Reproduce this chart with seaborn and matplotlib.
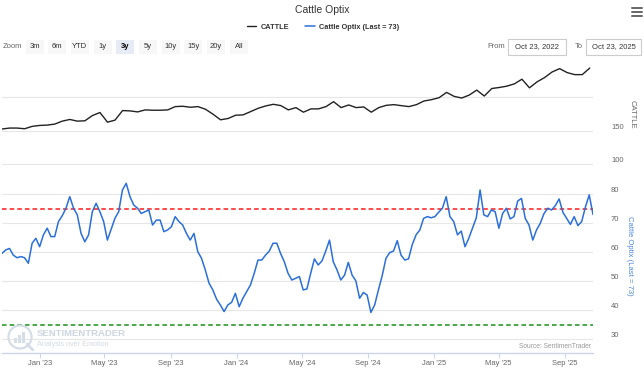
import pandas as pd
import matplotlib
matplotlib.use("Agg")
import matplotlib.pyplot as plt
import matplotlib.dates as mdates
from matplotlib.patches import Rectangle, Circle
from matplotlib.lines import Line2D
import seaborn as sns

# =========================================================
# DATA
# =========================================================
optix_start, optix_end = "2022-10-23", "2025-10-23"
optix_values = [
    59.6, 60.8, 61.3, 59.0, 58.1, 58.5, 58.1, 56.2, 63.1, 64.8,
    61.9, 66.0, 68.3, 65.4, 65.4, 70.6, 72.6, 75.2, 79.2, 75.2,
    72.9, 66.5, 63.6, 66.0, 74.0, 76.9, 74.0, 70.6, 64.2, 68.0,
    71.7, 74.0, 81.5, 83.8, 79.2, 76.3, 75.2, 73.4, 74.0, 74.6,
    69.4, 71.1, 71.1, 67.1, 67.7, 68.8, 72.3, 70.6, 69.4, 66.5,
    64.2, 66.5, 60.2, 57.9, 53.9, 49.3, 47.0, 43.8, 41.8, 39.5,
    41.8, 42.7, 45.8, 41.2, 44.1, 46.4, 48.7, 52.7, 57.3, 57.3,
    59.0, 60.4, 63.1, 63.1, 59.6, 56.7, 52.7, 50.4, 51.0, 51.6,
    47.0, 47.3, 52.7, 57.7, 55.6, 57.0, 60.4, 64.2, 56.7, 53.9,
    50.4, 52.1, 56.5, 52.1, 50.1, 44.1, 46.1, 45.2, 39.2, 41.8,
    47.0, 51.9, 57.9, 59.9, 60.4, 64.0, 59.0, 57.3, 57.7, 62.7,
    66.0, 67.7, 71.7, 72.3, 71.9, 72.3, 73.8, 75.2, 79.2, 72.3,
    70.6, 66.0, 67.3, 61.9, 64.8, 68.3, 71.9, 81.5, 72.9, 72.3,
    74.6, 74.0, 68.3, 73.4, 75.2, 71.5, 72.3, 77.7, 78.6, 71.7,
    69.4, 64.2, 67.7, 70.0, 73.4, 75.2, 74.6, 76.1, 78.4, 73.8,
    71.7, 69.6, 72.3, 69.2, 70.6, 75.7, 79.8, 73.0,
]

cattle_start, cattle_end = "2022-10-23", "2025-10-17"
cattle_values = [
    152.5, 153.9, 153.9, 152.9, 156.4, 157.8, 158.3, 159.8, 164.2, 166.7,
    164.2, 164.7, 172.5, 177.0, 162.7, 165.7, 179.9, 179.4, 177.9, 180.9,
    180.4, 180.4, 180.9, 185.8, 186.3, 184.8, 185.8, 181.9, 174.5, 166.2,
    168.1, 173.0, 173.5, 178.4, 183.3, 186.8, 189.2, 187.3, 180.9, 184.3,
    177.5, 182.4, 182.4, 185.8, 193.1, 184.3, 188.2, 184.3, 185.3, 177.5,
    184.3, 187.7, 188.7, 187.2, 185.8, 188.7, 194.1, 196.1, 199.0, 206.9,
    201.0, 198.5, 202.9, 210.3, 201.5, 212.7, 214.2, 216.2, 219.6, 226.5,
    213.7, 222.5, 228.9, 237.2, 242.2, 236.3, 233.3, 233.3, 243.1,
]

upper_level = 75
lower_level = 35
zoom_buttons = ["3m", "6m", "YTD", "1y", "3y", "5y", "10y", "15y", "20y", "All"]
selected_button = "3y"

optix_df = pd.DataFrame({
    "date": pd.date_range(optix_start, optix_end, periods=len(optix_values)),
    "value": optix_values,
})
cattle_df = pd.DataFrame({
    "date": pd.date_range(cattle_start, cattle_end, periods=len(cattle_values)),
    "value": cattle_values,
})

# =========================================================
# LAYOUT HELPERS (pixel -> figure fraction)
# =========================================================
W, H = 644, 371
def fx(x): return x / W
def fy(y): return 1 - y / H

sns.set_theme(style="white")
plt.rcParams['font.family'] = ['Liberation Sans', 'DejaVu Sans']

fig = plt.figure(figsize=(6.44, 3.71), dpi=100)
fig.patch.set_facecolor("white")

ax_top = fig.add_axes([fx(2), fy(170), fx(593) - fx(2), fy(58) - fy(170)])
ax_bot = fig.add_axes([fx(2), fy(353), fx(593) - fx(2), fy(170) - fy(353)])

xmin, xmax = pd.Timestamp(optix_start), pd.Timestamp(optix_end)
grid_col = "#e6e6e6"
tick_col = "#666666"

# --- upper pane: CATTLE
sns.lineplot(data=cattle_df, x="date", y="value", ax=ax_top, color="#222222",
             linewidth=1.0, label="CATTLE", legend=False)
ax_top.set_ylim(91.6, 258)
ax_top.set_yticks([100, 150, 200])
ax_top.set_yticklabels(["100", "150", ""])

# --- lower pane: Cattle Optix
ax_bot.axhline(upper_level, color="#ff1a1a", linestyle=(0, (3, 2)), linewidth=1.1, zorder=1)
ax_bot.axhline(lower_level, color="#1a8f1a", linestyle=(0, (3, 2)), linewidth=1.1, zorder=1)
sns.lineplot(data=optix_df, x="date", y="value", ax=ax_bot, color="#2a6fdb",
             linewidth=1.1, label="Cattle Optix (Last = 73)", legend=False, zorder=3)
ax_bot.set_ylim(25.2, 88.4)
ax_bot.set_yticks([30, 40, 50, 60, 70, 80])

for ax in (ax_top, ax_bot):
    ax.set_facecolor("none")
    ax.set_xlim(xmin, xmax)
    ax.set_xlabel("")
    ax.set_ylabel("")
    ax.yaxis.tick_right()
    ax.grid(axis="y", color=grid_col, linewidth=0.8)
    ax.grid(axis="x", visible=False)
    ax.set_axisbelow(True)
    ax.tick_params(axis="y", length=0, pad=13, labelsize=5.5, labelcolor=tick_col)
    for lab in ax.get_yticklabels():
        lab.set_va("bottom")
    for s in ax.spines.values():
        s.set_visible(False)

ax_top.tick_params(axis="x", bottom=False, labelbottom=False)

ax_bot.spines["bottom"].set_visible(True)
ax_bot.spines["bottom"].set_color("#ccd6eb")
ax_bot.spines["bottom"].set_linewidth(1)
ax_bot.xaxis.set_major_locator(mdates.MonthLocator(bymonth=[1, 5, 9]))
ax_bot.xaxis.set_major_formatter(mdates.DateFormatter("%b '%y"))
ax_bot.tick_params(axis="x", bottom=True, length=3.5, width=0.8, color="#ccd6eb",
                   pad=1.5, labelsize=5.5, labelcolor=tick_col)

# axis titles on the right
fig.text(fx(632), fy(114), "CATTLE", rotation=270, ha="center", va="center",
         fontsize=5.5, color=tick_col)
fig.text(fx(630), fy(256), "Cattle Optix (Last = 73)", rotation=270, ha="center",
         va="center", fontsize=5.5, color="#4a86e0")

# =========================================================
# HEADER: title, legend, zoom buttons, date range
# =========================================================
fig.text(fx(322), fy(10), "Cattle Optix", ha="center", va="center", fontsize=7.5, color="#333333")

handles = [ax_top.lines[0], ax_bot.lines[-1]]
fig.legend(handles=handles, labels=["CATTLE", "Cattle Optix (Last = 73)"],
           loc="center", bbox_to_anchor=(fx(323), fy(27)), ncol=2, frameon=False,
           prop={"weight": "bold", "size": 5.3}, handlelength=1.3,
           handletextpad=0.6, columnspacing=2.2, labelcolor="#333333")

fig.text(fx(12), fy(47), "Zoom", ha="center", va="center", fontsize=5.5, color=tick_col)
for i, lab in enumerate(zoom_buttons):
    cx = 34.5 + 22.7 * i
    sel = lab == selected_button
    fig.add_artist(Rectangle((fx(cx - 9), fy(54)), fx(18), fy(40) - fy(54),
                             transform=fig.transFigure,
                             facecolor="#e6ebf5" if sel else "#f7f7f7", edgecolor="none"))
    fig.text(fx(cx), fy(47), lab, ha="center", va="center", fontsize=5.5,
             color="#000000" if sel else "#333333", weight="bold" if sel else "normal")

fig.text(fx(496), fy(47), "From", ha="center", va="center", fontsize=5.5, color=tick_col)
fig.text(fx(579), fy(47), "To", ha="center", va="center", fontsize=5.5, color=tick_col)
for x0, x1, txt in [(508, 566, "Oct 23, 2022"), (586, 641, "Oct 23, 2025")]:
    fig.add_artist(Rectangle((fx(x0), fy(55)), fx(x1 - x0), fy(39) - fy(55),
                             transform=fig.transFigure, facecolor="white",
                             edgecolor="#cccccc", linewidth=0.8))
    fig.text(fx((x0 + x1) / 2), fy(47), txt, ha="center", va="center", fontsize=5.5, color="#333333")

# menu icon
for yy in (8, 12, 16):
    fig.add_artist(Line2D([fx(632), fx(642)], [fy(yy), fy(yy)], transform=fig.transFigure,
                          color="#666666", linewidth=1.4))

# =========================================================
# WATERMARK + SOURCE
# =========================================================
fig.add_artist(Circle((0.20, (H - 337) / 100), 0.115, transform=fig.dpi_scale_trans,
                      facecolor="none", edgecolor="#d5dde6", linewidth=1.6))
fig.add_artist(Line2D([0.27, 0.33], [(H - 344) / 100, (H - 350) / 100],
                      transform=fig.dpi_scale_trans, color="#d5dde6", linewidth=2))
for j, hgt in enumerate([5, 8, 11]):
    fig.add_artist(Rectangle((fx(14 + 4 * j), fy(343)), fx(2.5), fy(343 - hgt) - fy(343),
                             transform=fig.transFigure, facecolor="#d5dde6", edgecolor="none"))
fig.text(fx(37), fy(333), "SENTIMENTRADER", ha="left", va="center", fontsize=6.8,
         weight="bold", color="#cdd6e0")
fig.text(fx(37), fy(344), "Analysis over Emotion", ha="left", va="center", fontsize=5.2,
         color="#d2dae3")

fig.text(fx(591), fy(347), "Source: SentimenTrader", ha="right", va="center",
         fontsize=4.8, color="#999999")

fig.savefig("out.png", dpi=100, facecolor="white")
